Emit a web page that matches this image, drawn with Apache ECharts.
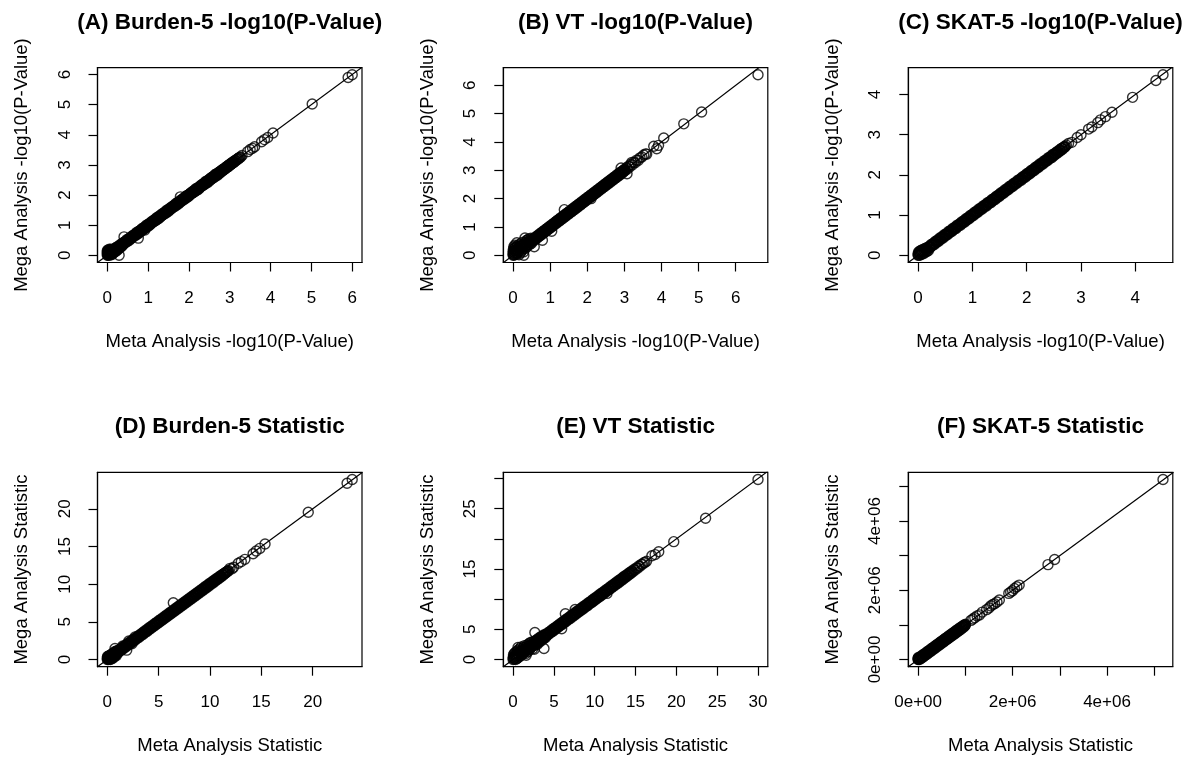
<!DOCTYPE html>
<html>
<head>
<meta charset="utf-8">
<script src="https://cdn.jsdelivr.net/npm/echarts@6/dist/echarts.min.js"></script>
<style>
  html, body { margin: 0; padding: 0; background: #ffffff; }
  #chart { width: 1190px; height: 760px; }
</style>
</head>
<body>
<div id="chart"></div>
<script>
// Each pair is [meta analysis value, mega analysis value] for one gene.
// The *Core arrays hold the genes sitting right on the diagonal of each panel.

// (A) Burden-5 -log10(P)
const burdenP = [
  [0,0],[0,0.05],[0,0.1],[0,0.15],[0.01,0.02],[0.01,0.12],[0.02,0.06],[0.02,0.18],[0.03,0.0],[0.03,0.1],
  [0.04,0.14],[0.04,0.03],[0.05,0.08],[0.05,0.2],[0.06,0.01],[0.06,0.12],[0.07,0.16],[0.08,0.05],[0.08,0.1],[0.09,0.2],
  [0.1,0.02],[0.1,0.13],[0.11,0.08],[0.12,0.18],[0.13,0.04],[0.14,0.12],[0.15,0.2],[0.16,0.09],[0.17,0.15],[0.18,0.22],
  [0.19,0.12],[0.2,0.18],[0.21,0.25],[0.22,0.14],[0.23,0.21],[0.24,0.28],[0.25,0.18],[0.26,0.24],[0.27,0.3],[0.28,0.22],
  [0.29,0],[0.3,0.27],[0.31,0.34],[0.32,0.26],[0.33,0.3],[0.34,0.37],[0.35,0.3],[0.36,0.34],[0.37,0.4],[0.38,0.33],
  [0.39,0.37],[0.41,0.61],[0.76,0.57],[0.92,0.84],[1.79,1.94],
  [0.4,0.43],[0.42,0.4],[0.44,0.46],[0.46,0.43],[0.48,0.52],[0.5,0.47],[0.52,0.55],[0.54,0.5],[0.56,0.58],[0.58,0.55],
  [0.6,0.63],[0.62,0.6],[0.64,0.67],[0.66,0.64],[0.68,0.7],[0.7,0.67],[0.72,0.76],[0.74,0.71],[0.76,0.79],[0.78,0.74],
  [0.8,0.82],[0.82,0.79],[0.84,0.87],[0.86,0.84],[0.88,0.91],[0.9,0.88],[0.92,0.94],[0.94,0.91],[0.96,1.0],[0.98,0.95],
  [1.0,1.03],[1.02,0.98],[1.04,1.06],[1.06,1.03],[1.08,1.11],[1.1,1.08],[1.12,1.15],[1.14,1.12],[1.16,1.18],[1.18,1.15],
  [1.2,1.24],[1.22,1.19],[1.24,1.27],[1.26,1.22],[1.28,1.3],[1.3,1.27],[1.32,1.35],[1.34,1.32],[1.36,1.39],[1.38,1.36],
  [1.4,1.42],[1.42,1.39],[1.44,1.48],[1.46,1.43],[1.48,1.51],[1.5,1.46],[1.52,1.54],[1.54,1.51],[1.56,1.59],[1.58,1.56],
  [1.6,1.63],[1.62,1.6],[1.64,1.66],[1.66,1.63],[1.68,1.72],[1.7,1.67],[1.72,1.75],[1.74,1.7],[1.76,1.78],[1.78,1.75],
  [1.8,1.83],[1.82,1.8],[1.84,1.87],[1.86,1.84],[1.88,1.9],[1.9,1.87],[1.92,1.96],[1.94,1.91],[1.96,1.99],[1.98,1.94],
  [2.0,2.02],[2.02,1.99],[2.04,2.07],[2.06,2.04],[2.08,2.11],[2.1,2.08],[2.12,2.14],[2.14,2.11],[2.16,2.2],[2.18,2.15],
  [2.2,2.23],[2.22,2.18],[2.24,2.26],[2.26,2.23],[2.28,2.31],[2.3,2.28],[2.32,2.35],[2.34,2.32],[2.36,2.38],[2.38,2.35],
  [2.4,2.44],[2.42,2.39],[2.44,2.47],[2.46,2.42],[2.48,2.5],[2.5,2.47],[2.52,2.55],[2.54,2.52],[2.56,2.59],[2.58,2.56],
  [2.6,2.62],[2.62,2.59],[2.64,2.68],[2.66,2.63],[2.68,2.71],[2.7,2.66],[2.72,2.74],[2.74,2.71],[2.76,2.78],[2.78,2.76],
  [2.8,2.82],[2.82,2.8],[2.84,2.86],[2.86,2.84],[2.88,2.9],[2.9,2.88],[2.92,2.94],[2.94,2.92],[2.96,2.98],[2.98,2.96],
  [3.0,3.02],[3.02,3.01],[3.04,3.06],[3.06,3.05],[3.08,3.1],[3.1,3.09],[3.12,3.14],[3.15,3.14],[3.18,3.19],[3.21,3.2],
  [3.24,3.25],[3.27,3.26],[3.3,3.31],
  [3.44,3.44],[3.5,3.51],[3.56,3.55],[3.61,3.6],[3.78,3.77],[3.85,3.84],[3.93,3.91],[4.06,4.06],[5.02,5.02],[5.9,5.9],
  [6.0,5.99]
];
const burdenPCore = [
  [0.41,0.41],[0.43,0.44],[0.45,0.45],[0.47,0.46],[0.49,0.49],[0.51,0.52],[0.53,0.53],[0.55,0.54],[0.57,0.57],[0.59,0.6],
  [0.61,0.61],[0.63,0.62],[0.65,0.65],[0.67,0.68],[0.69,0.69],[0.71,0.7],[0.73,0.73],[0.75,0.76],[0.77,0.77],[0.79,0.78],
  [0.81,0.81],[0.83,0.84],[0.85,0.85],[0.87,0.86],[0.89,0.89],[0.91,0.92],[0.93,0.93],[0.95,0.94],[0.97,0.97],[0.99,1.0],
  [1.01,1.01],[1.03,1.02],[1.05,1.05],[1.07,1.08],[1.09,1.09],[1.11,1.1],[1.13,1.13],[1.15,1.16],[1.17,1.17],[1.19,1.18],
  [1.21,1.21],[1.23,1.24],[1.25,1.25],[1.27,1.26],[1.29,1.29],[1.31,1.32],[1.33,1.33],[1.35,1.34],[1.37,1.37],[1.39,1.4],
  [1.41,1.41],[1.43,1.42],[1.45,1.45],[1.47,1.48],[1.49,1.49],[1.51,1.5],[1.53,1.53],[1.55,1.56],[1.57,1.57],[1.59,1.58],
  [1.61,1.61],[1.63,1.64],[1.65,1.65],[1.67,1.66],[1.69,1.69],[1.71,1.72],[1.73,1.73],[1.75,1.74],[1.77,1.77],[1.79,1.8],
  [1.81,1.81],[1.83,1.82],[1.85,1.85],[1.87,1.88],[1.89,1.89],[1.91,1.9],[1.93,1.93],[1.95,1.96],[1.97,1.97],[1.99,1.98],
  [2.01,2.01],[2.03,2.04],[2.05,2.05],[2.07,2.06],[2.09,2.09],[2.11,2.12],[2.13,2.13],[2.15,2.14],[2.17,2.17],[2.19,2.2],
  [2.21,2.21],[2.23,2.22],[2.25,2.25],[2.27,2.28],[2.29,2.29],[2.31,2.3],[2.33,2.33],[2.35,2.36],[2.37,2.37],[2.39,2.38],
  [2.41,2.41],[2.43,2.44],[2.45,2.45],[2.47,2.46],[2.49,2.49],[2.51,2.52],[2.53,2.53],[2.55,2.54],[2.57,2.57],[2.59,2.6],
  [2.61,2.61],[2.63,2.62],[2.65,2.65],[2.67,2.68],[2.69,2.69],[2.71,2.7],[2.73,2.73],[2.75,2.76],[2.77,2.77],[2.79,2.78],
  [2.81,2.81],[2.83,2.84],[2.85,2.85],[2.87,2.86],[2.89,2.89],[2.91,2.92],[2.93,2.93],[2.95,2.94],[2.97,2.97],[2.99,3.0],
  [3.01,3.01],[3.03,3.02],[3.05,3.05],[3.07,3.08],[3.09,3.09],[3.11,3.1],[3.14,3.15],[3.17,3.17],[3.2,3.21],[3.23,3.23]
];

// (B) VT -log10(P)
const vtP = [
  [0,0],[0,0.06],[0,0.14],[0.01,0.22],[0.01,0.03],[0.02,0.1],[0.02,0.3],[0.03,0.17],[0.03,0.01],[0.04,0.25],
  [0.05,0.08],[0.05,0.36],[0.06,0.15],[0.07,0.03],[0.07,0.28],[0.08,0.2],[0.09,0.1],[0.1,0.44],[0.1,0.3],[0.11,0.05],
  [0.12,0.19],[0.13,0.36],[0.14,0.12],[0.15,0.25],[0.16,0.02],[0.17,0.32],[0.18,0.18],[0.19,0.4],[0.2,0.09],[0.21,0.26],
  [0.22,0.34],[0.23,0.16],[0.24,0.45],[0.25,0.28],[0.26,0.22],[0.27,0.36],[0.28,0.12],[0.29,0],[0.3,0.4],[0.31,0.3],
  [0.32,0.61],[0.33,0.24],[0.34,0.46],[0.35,0.35],[0.36,0.52],[0.37,0.3],[0.38,0.42],[0.39,0.55],[0.4,0.36],[0.41,0.48],
  [0.42,0.4],[0.43,0.58],[0.44,0.45],[0.45,0.38],[0.46,0.53],[0.47,0.46],[0.48,0.6],[0.49,0.42],[0.5,0.55],
  [0.57,0.3],[0.79,0.53],[1.04,0.85],[1.38,1.61],[2.1,2.0],[2.91,3.08],[3.07,2.88],
  [0.52,0.55],[0.54,0.5],[0.56,0.6],[0.58,0.55],[0.6,0.63],[0.62,0.58],[0.64,0.68],[0.66,0.63],[0.68,0.71],[0.7,0.66],
  [0.72,0.76],[0.74,0.71],[0.76,0.79],[0.78,0.74],[0.8,0.84],[0.82,0.79],[0.84,0.87],[0.86,0.82],[0.88,0.92],[0.9,0.87],
  [0.92,0.95],[0.94,0.9],[0.96,1.0],[0.98,0.95],[1.0,1.03],[1.02,0.98],[1.04,1.08],[1.06,1.03],[1.08,1.11],[1.1,1.06],
  [1.12,1.16],[1.14,1.11],[1.16,1.19],[1.18,1.14],[1.2,1.24],[1.22,1.19],[1.24,1.27],[1.26,1.22],[1.28,1.32],[1.3,1.27],
  [1.32,1.35],[1.34,1.3],[1.36,1.4],[1.38,1.35],[1.4,1.43],[1.42,1.38],[1.44,1.48],[1.46,1.43],[1.48,1.51],[1.5,1.46],
  [1.52,1.56],[1.54,1.51],[1.56,1.59],[1.58,1.54],[1.6,1.64],[1.62,1.59],[1.64,1.67],[1.66,1.62],[1.68,1.72],[1.7,1.67],
  [1.72,1.75],[1.74,1.7],[1.76,1.8],[1.78,1.75],[1.8,1.83],[1.82,1.78],[1.84,1.88],[1.86,1.83],[1.88,1.91],[1.9,1.86],
  [1.92,1.96],[1.94,1.91],[1.96,1.99],[1.98,1.94],[2.0,2.04],[2.02,1.99],[2.04,2.07],[2.06,2.02],[2.08,2.12],[2.1,2.07],
  [2.12,2.15],[2.14,2.1],[2.16,2.2],[2.18,2.15],[2.2,2.23],[2.22,2.18],[2.24,2.28],[2.26,2.23],[2.28,2.31],[2.3,2.26],
  [2.32,2.36],[2.34,2.31],[2.36,2.39],[2.38,2.34],[2.4,2.44],[2.42,2.39],[2.44,2.47],[2.46,2.42],[2.48,2.52],[2.5,2.47],
  [2.52,2.55],[2.54,2.5],[2.56,2.6],[2.58,2.55],[2.6,2.63],[2.62,2.58],[2.64,2.68],[2.66,2.63],[2.68,2.71],[2.7,2.66],
  [2.72,2.76],[2.74,2.71],[2.76,2.79],[2.78,2.74],[2.8,2.84],[2.82,2.79],[2.84,2.87],[2.86,2.82],[2.88,2.92],[2.9,2.87],
  [2.92,2.95],[2.94,2.9],[2.96,2.99],[2.98,2.95],[3.0,3.03],[3.02,2.99],
  [3.05,3.09],[3.08,3.05],[3.11,3.14],[3.14,3.12],[3.17,3.21],[3.2,3.28],[3.21,3.19],[3.25,3.28],[3.29,3.27],[3.33,3.36],
  [3.37,3.35],[3.42,3.44],[3.47,3.47],[3.52,3.54],[3.57,3.58],[3.6,3.57],
  [3.79,3.85],[3.87,3.76],[3.92,3.88],[4.06,4.14],[4.6,4.64],[5.08,5.06],[6.6,6.37]
];
const vtPCore = [
  [0.53,0.54],[0.55,0.55],[0.57,0.56],[0.59,0.59],[0.61,0.62],[0.63,0.63],[0.65,0.64],[0.67,0.67],[0.69,0.7],[0.71,0.71],
  [0.73,0.72],[0.75,0.75],[0.77,0.78],[0.79,0.79],[0.81,0.8],[0.83,0.83],[0.85,0.86],[0.87,0.87],[0.89,0.88],[0.91,0.91],
  [0.93,0.94],[0.95,0.95],[0.97,0.96],[0.99,0.99],[1.01,1.02],[1.03,1.03],[1.05,1.04],[1.07,1.07],[1.09,1.1],[1.11,1.11],
  [1.13,1.12],[1.15,1.15],[1.17,1.18],[1.19,1.19],[1.21,1.2],[1.23,1.23],[1.25,1.26],[1.27,1.27],[1.29,1.28],[1.31,1.31],
  [1.33,1.34],[1.35,1.35],[1.37,1.36],[1.39,1.39],[1.41,1.42],[1.43,1.43],[1.45,1.44],[1.47,1.47],[1.49,1.5],[1.51,1.51],
  [1.53,1.52],[1.55,1.55],[1.57,1.58],[1.59,1.59],[1.61,1.6],[1.63,1.63],[1.65,1.66],[1.67,1.67],[1.69,1.68],[1.71,1.71],
  [1.73,1.74],[1.75,1.75],[1.77,1.76],[1.79,1.79],[1.81,1.82],[1.83,1.83],[1.85,1.84],[1.87,1.87],[1.89,1.9],[1.91,1.91],
  [1.93,1.92],[1.95,1.95],[1.97,1.98],[1.99,1.99],[2.01,2.0],[2.03,2.03],[2.05,2.06],[2.07,2.07],[2.09,2.08],[2.11,2.11],
  [2.13,2.14],[2.15,2.15],[2.17,2.16],[2.19,2.19],[2.21,2.22],[2.23,2.23],[2.25,2.24],[2.27,2.27],[2.29,2.3],[2.31,2.31],
  [2.33,2.32],[2.35,2.35],[2.37,2.38],[2.39,2.39],[2.41,2.4],[2.43,2.43],[2.45,2.46],[2.47,2.47],[2.49,2.48],[2.51,2.51],
  [2.53,2.54],[2.55,2.55],[2.57,2.56],[2.59,2.59],[2.61,2.62],[2.63,2.63],[2.65,2.64],[2.67,2.67],[2.69,2.7],[2.71,2.71],
  [2.73,2.72],[2.75,2.75],[2.77,2.78],[2.79,2.79],[2.81,2.8],[2.83,2.83],[2.85,2.86],[2.87,2.87],[2.89,2.88],[2.91,2.91],
  [2.93,2.94],[2.95,2.95],[2.97,2.96],[2.99,2.99],[3.01,3.02]
];

// (C) SKAT-5 -log10(P)
const skatP = [
  [0,0],[0,0.04],[0.01,0.08],[0.01,0.01],[0.02,0.05],[0.03,0.1],[0.03,0.0],[0.04,0.06],[0.05,0.12],[0.05,0.02],
  [0.06,0.08],[0.07,0.13],[0.08,0.03],[0.09,0.1],[0.1,0.15],[0.11,0.05],[0.12,0.11],[0.13,0.17],[0.14,0.08],[0.15,0.13],
  [0.16,0.19],[0.17,0.1],[0.18,0.16],[0.19,0.12],
  [0.2,0.22],[0.22,0.19],[0.24,0.27],[0.26,0.24],[0.28,0.3],[0.3,0.27],[0.32,0.35],[0.34,0.32],[0.36,0.38],[0.38,0.35],
  [0.4,0.43],[0.42,0.4],[0.44,0.46],[0.46,0.43],[0.48,0.51],[0.5,0.48],[0.52,0.54],[0.54,0.51],[0.56,0.59],[0.58,0.56],
  [0.6,0.62],[0.62,0.59],[0.64,0.67],[0.66,0.64],[0.68,0.7],[0.7,0.67],[0.72,0.75],[0.74,0.72],[0.76,0.78],[0.78,0.75],
  [0.8,0.83],[0.82,0.8],[0.84,0.86],[0.86,0.83],[0.88,0.91],[0.9,0.88],[0.92,0.94],[0.94,0.91],[0.96,0.99],[0.98,0.96],
  [1.0,1.02],[1.02,0.99],[1.04,1.07],[1.06,1.04],[1.08,1.1],[1.1,1.07],[1.12,1.15],[1.14,1.12],[1.16,1.18],[1.18,1.15],
  [1.2,1.23],[1.22,1.2],[1.24,1.26],[1.26,1.23],[1.28,1.31],[1.3,1.28],[1.32,1.34],[1.34,1.31],[1.36,1.39],[1.38,1.36],
  [1.4,1.42],[1.42,1.39],[1.44,1.47],[1.46,1.44],[1.48,1.5],[1.5,1.47],[1.52,1.55],[1.54,1.52],[1.56,1.58],[1.58,1.55],
  [1.6,1.63],[1.62,1.6],[1.64,1.66],[1.66,1.63],[1.68,1.71],[1.7,1.68],[1.72,1.74],[1.74,1.71],[1.76,1.79],[1.78,1.76],
  [1.8,1.82],[1.82,1.79],[1.84,1.87],[1.86,1.84],[1.88,1.9],[1.9,1.87],[1.92,1.95],[1.94,1.92],[1.96,1.98],[1.98,1.95],
  [2.0,2.03],[2.02,2.0],[2.04,2.06],[2.06,2.03],[2.08,2.11],[2.1,2.08],[2.12,2.14],[2.14,2.11],[2.16,2.19],[2.18,2.16],
  [2.2,2.22],[2.22,2.19],[2.24,2.27],[2.26,2.24],[2.28,2.3],[2.3,2.27],[2.32,2.35],[2.34,2.32],[2.36,2.38],[2.38,2.35],
  [2.4,2.43],[2.42,2.4],[2.44,2.46],[2.46,2.43],[2.48,2.51],[2.5,2.48],[2.52,2.54],[2.54,2.52],[2.56,2.58],[2.58,2.56],
  [2.6,2.62],[2.62,2.6],[2.64,2.66],[2.66,2.64],[2.68,2.69],[2.7,2.69],[2.73,2.74],
  [2.77,2.78],[2.83,2.81],[2.93,2.93],[3.0,3.0],[3.14,3.14],[3.2,3.19],[3.31,3.3],[3.36,3.37],[3.45,3.45],[3.57,3.56],
  [3.95,3.93],[4.38,4.35],[4.51,4.49]
];
const skatPCore = [
  [0.21,0.21],[0.23,0.22],[0.25,0.26],[0.27,0.27],[0.29,0.29],[0.31,0.3],[0.33,0.34],[0.35,0.35],[0.37,0.37],[0.39,0.38],
  [0.41,0.42],[0.43,0.43],[0.45,0.45],[0.47,0.46],[0.49,0.5],[0.51,0.51],[0.53,0.53],[0.55,0.54],[0.57,0.58],[0.59,0.59],
  [0.61,0.61],[0.63,0.62],[0.65,0.66],[0.67,0.67],[0.69,0.69],[0.71,0.7],[0.73,0.74],[0.75,0.75],[0.77,0.77],[0.79,0.78],
  [0.81,0.82],[0.83,0.83],[0.85,0.85],[0.87,0.86],[0.89,0.9],[0.91,0.91],[0.93,0.93],[0.95,0.94],[0.97,0.98],[0.99,0.99],
  [1.01,1.01],[1.03,1.02],[1.05,1.06],[1.07,1.07],[1.09,1.09],[1.11,1.1],[1.13,1.14],[1.15,1.15],[1.17,1.17],[1.19,1.18],
  [1.21,1.22],[1.23,1.23],[1.25,1.25],[1.27,1.26],[1.29,1.3],[1.31,1.31],[1.33,1.33],[1.35,1.34],[1.37,1.38],[1.39,1.39],
  [1.41,1.41],[1.43,1.42],[1.45,1.46],[1.47,1.47],[1.49,1.49],[1.51,1.5],[1.53,1.54],[1.55,1.55],[1.57,1.57],[1.59,1.58],
  [1.61,1.62],[1.63,1.63],[1.65,1.65],[1.67,1.66],[1.69,1.7],[1.71,1.71],[1.73,1.73],[1.75,1.74],[1.77,1.78],[1.79,1.79],
  [1.81,1.81],[1.83,1.82],[1.85,1.86],[1.87,1.87],[1.89,1.89],[1.91,1.9],[1.93,1.94],[1.95,1.95],[1.97,1.97],[1.99,1.98],
  [2.01,2.02],[2.03,2.03],[2.05,2.05],[2.07,2.06],[2.09,2.1],[2.11,2.11],[2.13,2.13],[2.15,2.14],[2.17,2.18],[2.19,2.19],
  [2.21,2.21],[2.23,2.22],[2.25,2.26],[2.27,2.27],[2.29,2.29],[2.31,2.3],[2.33,2.34],[2.35,2.35],[2.37,2.37],[2.39,2.38],
  [2.41,2.42],[2.43,2.43],[2.45,2.45],[2.47,2.46],[2.49,2.5],[2.51,2.51],[2.53,2.53],[2.55,2.54],[2.57,2.58],[2.59,2.59],
  [2.61,2.61],[2.63,2.62],[2.65,2.66],[2.67,2.67],[2.69,2.7],[2.71,2.71]
];

// (D) Burden-5 statistic
const burdenStat = [
  [0,0],[0,0.2],[0.02,0.4],[0.05,0.1],[0.08,0.3],[0.1,0.0],[0.12,0.45],[0.15,0.2],[0.18,0.05],[0.2,0.35],
  [0.22,0.55],[0.25,0.15],[0.28,0.4],[0.3,0.0],[0.32,0.25],[0.35,0.6],[0.38,0.1],[0.4,0.4],[0.42,0.7],[0.45,0.25],
  [0.48,0.5],[0.5,0.15],[0.52,0.8],[0.55,0.4],[0.58,0.6],[0.6,0.3],[0.62,0.9],[0.65,0.55],[0.68,0.35],[0.7,0.75],
  [0.75,1.46],[0.72,1.0],[0.75,0.5],[0.78,0.85],[0.8,0.6],[0.82,1.1],[0.85,0.7],[0.88,0.95],[0.9,0.55],[0.92,1.15],
  [0.95,0.8],[0.98,1.05],[1.89,1.24],[6.43,7.53],[1.5,1.8],[2.1,2.45],[2.4,2.1],[2.7,3.0],
  [1.0,1.13],[1.1,0.98],[1.2,1.35],[1.3,1.17],[1.4,1.53],[1.5,1.37],[1.6,1.74],[1.7,1.58],[1.8,1.93],[1.9,1.77],
  [2.0,2.14],[2.1,1.98],[2.2,2.33],[2.3,2.17],[2.4,2.53],[2.5,2.38],[2.6,2.74],[2.7,2.57],[2.8,2.93],[2.9,2.78],
  [3.0,3.14],[3.1,2.97],[3.2,3.33],[3.3,3.18],[3.4,3.53],[3.5,3.37],[3.6,3.74],[3.7,3.58],[3.8,3.93],[3.9,3.77],
  [4.0,4.14],[4.1,3.98],[4.2,4.33],[4.3,4.17],[4.4,4.53],[4.5,4.38],[4.6,4.74],[4.7,4.57],[4.8,4.93],[4.9,4.78],
  [5.0,5.14],[5.1,4.97],[5.2,5.33],[5.3,5.18],[5.4,5.53],[5.5,5.37],[5.6,5.74],[5.7,5.58],[5.8,5.93],[5.9,5.77],
  [6.0,6.14],[6.1,5.98],[6.2,6.33],[6.3,6.17],[6.4,6.53],[6.5,6.38],[6.6,6.74],[6.7,6.57],[6.8,6.93],[6.9,6.78],
  [7.0,7.14],[7.1,6.97],[7.2,7.33],[7.3,7.18],[7.4,7.53],[7.5,7.37],[7.6,7.74],[7.7,7.58],[7.8,7.93],[7.9,7.77],
  [8.0,8.14],[8.1,7.98],[8.2,8.33],[8.3,8.17],[8.4,8.53],[8.5,8.38],[8.6,8.74],[8.7,8.57],[8.8,8.93],[8.9,8.78],
  [9.0,9.14],[9.1,8.97],[9.2,9.33],[9.3,9.18],[9.4,9.53],[9.5,9.37],[9.6,9.74],[9.7,9.58],[9.8,9.93],[9.9,9.77],
  [10.0,10.14],[10.1,9.98],[10.2,10.33],[10.3,10.17],[10.4,10.53],[10.5,10.38],[10.6,10.72],[10.7,10.6],[10.8,10.9],[10.9,10.8],
  [11.0,11.1],[11.1,11.0],[11.2,11.28],[11.3,11.22],[11.4,11.46],[11.5,11.44],[11.6,11.64],[11.7,11.68],[11.8,11.82],
  [11.95,12.1],[12.15,12.05],[12.3,12.25],[12.76,12.77],[13.05,13.0],[13.4,13.3],[14.2,14.05],[14.5,14.4],[14.85,14.75],[15.36,15.33],
  [19.57,19.55],[23.35,23.4],[23.85,23.9]
];
const burdenStatCore = [
  [1.05,1.06],[1.15,1.14],[1.25,1.26],[1.35,1.35],[1.45,1.46],[1.55,1.54],[1.65,1.66],[1.75,1.75],[1.85,1.86],[1.95,1.94],
  [2.05,2.06],[2.15,2.15],[2.25,2.26],[2.35,2.34],[2.45,2.46],[2.55,2.55],[2.65,2.66],[2.75,2.74],[2.85,2.86],[2.95,2.95],
  [3.05,3.06],[3.15,3.14],[3.25,3.26],[3.35,3.35],[3.45,3.46],[3.55,3.54],[3.65,3.66],[3.75,3.75],[3.85,3.86],[3.95,3.94],
  [4.05,4.06],[4.15,4.15],[4.25,4.26],[4.35,4.34],[4.45,4.46],[4.55,4.55],[4.65,4.66],[4.75,4.74],[4.85,4.86],[4.95,4.95],
  [5.05,5.06],[5.15,5.14],[5.25,5.26],[5.35,5.35],[5.45,5.46],[5.55,5.54],[5.65,5.66],[5.75,5.75],[5.85,5.86],[5.95,5.94],
  [6.05,6.06],[6.15,6.15],[6.25,6.26],[6.35,6.34],[6.45,6.46],[6.55,6.55],[6.65,6.66],[6.75,6.74],[6.85,6.86],[6.95,6.95],
  [7.05,7.06],[7.15,7.14],[7.25,7.26],[7.35,7.35],[7.45,7.46],[7.55,7.54],[7.65,7.66],[7.75,7.75],[7.85,7.86],[7.95,7.94],
  [8.05,8.06],[8.15,8.15],[8.25,8.26],[8.35,8.34],[8.45,8.46],[8.55,8.55],[8.65,8.66],[8.75,8.74],[8.85,8.86],[8.95,8.95],
  [9.05,9.06],[9.15,9.14],[9.25,9.26],[9.35,9.35],[9.45,9.46],[9.55,9.54],[9.65,9.66],[9.75,9.75],[9.85,9.86],[9.95,9.94],
  [10.05,10.06],[10.15,10.15],[10.25,10.26],[10.35,10.34],[10.45,10.46],[10.55,10.55],[10.65,10.66],[10.75,10.74],[10.85,10.86],[10.95,10.95],
  [11.05,11.06],[11.15,11.14],[11.25,11.26],[11.35,11.35],[11.45,11.46],[11.55,11.54],[11.65,11.66],[11.75,11.75]
];

// (E) VT statistic
const vtStat = [
  [0,0],[0,0.3],[0.05,0.8],[0.1,0.1],[0.1,0.5],[0.15,1.0],[0.2,0.2],[0.25,0.7],[0.3,0.0],[0.3,1.2],
  [0.35,0.4],[0.4,0.9],[0.45,0.15],[0.5,1.4],[0.5,0.6],[0.55,1.0],[0.6,2.0],[0.6,0.3],[0.65,1.6],[0.7,0.8],
  [0.75,1.2],[0.8,0.5],[0.85,1.8],[0.9,1.0],[0.95,1.4],[1.0,2.1],[1.0,0.7],[1.05,1.2],[1.1,1.7],[1.15,0.9],
  [1.2,1.4],[1.25,2.0],[1.3,1.1],[1.35,1.6],[1.4,2.3],[1.45,1.3],[1.5,1.8],[1.55,1.0],[1.6,0.7],[1.6,2.1],
  [1.65,1.5],[1.7,2.4],[1.75,1.7],[1.8,1.3],[1.85,2.2],[1.9,1.8],[1.95,2.6],[2.0,1.6],[2.05,2.2],[2.1,2.8],
  [2.15,1.9],[2.2,2.5],[2.25,2.1],[2.3,2.9],[2.35,2.3],[2.4,1.8],[2.45,2.7],[2.5,2.3],[2.55,3.0],[2.6,1.7],
  [2.6,2.6],[2.67,4.48],[2.7,2.9],[2.75,2.4],[2.8,3.2],[2.85,2.7],[2.9,3.0],[2.95,2.5],[3.0,3.3],[3.05,2.8],
  [3.1,3.5],[3.15,3.0],[3.2,3.3],[3.25,2.9],[3.3,3.6],[3.35,3.2],[3.4,3.8],[3.45,3.3],[3.5,3.6],[3.55,3.2],
  [3.6,3.9],[3.65,3.5],[3.7,3.8],[3.78,1.83],[3.75,3.5],[3.8,4.1],[3.85,3.7],[3.9,4.0],[3.95,3.6],
  [5.95,5.1],[6.4,7.58],[7.6,8.3],[11.5,10.96],
  [4.0,4.17],[4.12,3.95],[4.24,4.42],[4.36,4.19],[4.48,4.63],[4.6,4.43],[4.72,4.89],[4.84,4.66],[4.96,5.14],[5.08,4.91],
  [5.2,5.35],[5.32,5.15],[5.44,5.61],[5.56,5.38],[5.68,5.86],[5.8,5.63],[5.92,6.07],[6.04,5.87],[6.16,6.33],[6.28,6.1],
  [6.4,6.58],[6.52,6.35],[6.64,6.79],[6.76,6.59],[6.88,7.05],[7.0,6.82],[7.12,7.3],[7.24,7.07],[7.36,7.51],[7.48,7.31],
  [7.6,7.77],[7.72,7.54],[7.84,8.02],[7.96,7.79],[8.08,8.23],[8.2,8.03],[8.32,8.49],[8.44,8.26],[8.56,8.74],[8.68,8.51],
  [8.8,8.95],[8.92,8.75],[9.04,9.21],[9.16,8.98],[9.28,9.46],[9.4,9.23],[9.52,9.67],[9.64,9.47],[9.76,9.93],[9.88,9.7],
  [10.0,10.18],[10.12,9.95],[10.24,10.39],[10.36,10.19],[10.48,10.65],[10.6,10.42],[10.72,10.9],[10.84,10.67],[10.96,11.11],[11.08,10.91],
  [11.2,11.37],[11.32,11.14],[11.44,11.62],[11.56,11.39],[11.68,11.83],[11.8,11.63],[11.92,12.09],[12.04,11.86],[12.16,12.34],[12.28,12.11],
  [12.4,12.55],[12.52,12.35],[12.64,12.81],[12.76,12.58],[12.88,13.06],[13.0,12.83],[13.12,13.27],[13.24,13.07],[13.36,13.53],[13.48,13.3],
  [13.6,13.78],[13.72,13.55],[13.84,13.99],[13.96,13.79],[14.08,14.22],[14.2,14.06],[14.32,14.46],[14.44,14.3],[14.56,14.68],[14.68,14.56],
  [14.8,14.92],[14.95,14.83],[15.1,15.2],[15.25,15.15],[15.4,15.5],[15.55,15.45],[15.7,15.78],[15.85,15.8],[16.0,16.05],[16.15,16.1],
  [16.35,16.3],
  [17.0,17.2],[17.4,17.4],[17.84,17.87],[19.68,19.54],[23.58,23.42],[30.0,29.85]
];
const vtStatCore = [
  [4.06,4.08],[4.18,4.18],[4.3,4.28],[4.42,4.42],[4.54,4.56],[4.66,4.66],[4.78,4.76],[4.9,4.9],[5.02,5.04],[5.14,5.14],
  [5.26,5.24],[5.38,5.38],[5.5,5.52],[5.62,5.62],[5.74,5.72],[5.86,5.86],[5.98,6.0],[6.1,6.1],[6.22,6.2],[6.34,6.34],
  [6.46,6.48],[6.58,6.58],[6.7,6.68],[6.82,6.82],[6.94,6.96],[7.06,7.06],[7.18,7.16],[7.3,7.3],[7.42,7.44],[7.54,7.54],
  [7.66,7.64],[7.78,7.78],[7.9,7.92],[8.02,8.02],[8.14,8.12],[8.26,8.26],[8.38,8.4],[8.5,8.5],[8.62,8.6],[8.74,8.74],
  [8.86,8.88],[8.98,8.98],[9.1,9.08],[9.22,9.22],[9.34,9.36],[9.46,9.46],[9.58,9.56],[9.7,9.7],[9.82,9.84],[9.94,9.94],
  [10.06,10.04],[10.18,10.18],[10.3,10.32],[10.42,10.42],[10.54,10.52],[10.66,10.66],[10.78,10.8],[10.9,10.9],[11.02,11.0],[11.14,11.14],
  [11.26,11.28],[11.38,11.38],[11.5,11.48],[11.62,11.62],[11.74,11.76],[11.86,11.86],[11.98,11.96],[12.1,12.1],[12.22,12.24],[12.34,12.34],
  [12.46,12.44],[12.58,12.58],[12.7,12.72],[12.82,12.82],[12.94,12.92],[13.06,13.06],[13.18,13.2],[13.3,13.3],[13.42,13.4],[13.54,13.54],
  [13.66,13.68],[13.78,13.78],[13.9,13.88],[14.02,14.02],[14.14,14.16],[14.26,14.26],[14.38,14.36],[14.5,14.5]
];

// (F) SKAT-5 statistic
const skatStat = [
  [0,0],[0,30000],[5000,60000],[10000,15000],[20000,40000],
  [15000,45000],[30000,2000],[45000,72000],[60000,32000],[75000,108000],[90000,58000],[105000,137000],[120000,88000],[135000,163000],[150000,122000],
  [165000,197000],[180000,148000],[195000,224000],[210000,183000],[225000,257000],[240000,208000],[255000,283000],[270000,242000],[285000,318000],[300000,268000],
  [315000,344000],[330000,303000],[345000,377000],[360000,328000],[375000,403000],[390000,362000],[405000,437000],[420000,388000],[435000,463000],[450000,423000],
  [465000,497000],[480000,448000],[495000,523000],[510000,482000],[525000,557000],[540000,508000],[555000,583000],[570000,543000],[585000,617000],[600000,568000],
  [615000,643000],[630000,602000],[645000,677000],[660000,628000],[675000,703000],[690000,663000],[705000,737000],[720000,688000],[735000,763000],[750000,722000],
  [765000,797000],[780000,748000],[795000,823000],[810000,783000],[825000,857000],[840000,808000],[855000,883000],[870000,842000],[885000,915000],[900000,870000],
  [915000,940000],[930000,905000],[945000,968000],[960000,935000],[975000,995000],[990000,970000],[1005000,1020000],
  [1120000,1130000],[1160000,1170000],[1200000,1210000],[1250000,1260000],[1300000,1290000],[1360000,1370000],
  [1450000,1440000],[1500000,1490000],[1540000,1550000],[1580000,1590000],[1620000,1610000],[1670000,1660000],[1720000,1720000],
  [1920000,1910000],[1960000,1950000],[2000000,1990000],[2040000,2050000],[2090000,2100000],[2140000,2150000],
  [2750000,2740000],[2890000,2890000],[5185000,5200000]
];
const skatStatCore = [
  [7500,9000],[22500,21000],[37500,39000],[52500,52500],[67500,69000],[82500,81000],[97500,99000],[112500,112500],[127500,129000],[142500,141000],
  [157500,159000],[172500,172500],[187500,189000],[202500,201000],[217500,219000],[232500,232500],[247500,249000],[262500,261000],[277500,279000],[292500,292500],
  [307500,309000],[322500,321000],[337500,339000],[352500,352500],[367500,369000],[382500,381000],[397500,399000],[412500,412500],[427500,429000],[442500,441000],
  [457500,459000],[472500,472500],[487500,489000],[502500,501000],[517500,519000],[532500,532500],[547500,549000],[562500,561000],[577500,579000],[592500,592500],
  [607500,609000],[622500,621000],[637500,639000],[652500,652500],[667500,669000],[682500,681000],[697500,699000],[712500,712500],[727500,729000],[742500,741000],
  [757500,759000],[772500,772500],[787500,789000],[802500,801000],[817500,819000],[832500,832500],[847500,849000],[862500,861000],[877500,879000],[892500,892500],
  [907500,909000],[922500,921000],[937500,939000],[952500,952500],[967500,969000],[982500,981000],[997500,999000]
];

// Panel titles and axis titles
const panelTitles = [
  '(A) Burden-5 -log10(P-Value)', '(B) VT -log10(P-Value)', '(C) SKAT-5 -log10(P-Value)',
  '(D) Burden-5 Statistic', '(E) VT Statistic', '(F) SKAT-5 Statistic'
];
const metaTitles = ['Meta Analysis -log10(P-Value)', 'Meta Analysis Statistic'];
const megaTitles = ['Mega Analysis -log10(P-Value)', 'Mega Analysis Statistic'];

// Tick positions and the subset of ticks that carry labels
const ticksP6 = [0, 1, 2, 3, 4, 5, 6];
const ticksP4 = [0, 1, 2, 3, 4];
const ticksBurdenStat = [0, 5, 10, 15, 20];
const ticksVtStat = [0, 5, 10, 15, 20, 25, 30];
const labelsVtStatY = [0, 5, 15, 25];
const ticksSkatStat = [0, 1e6, 2e6, 3e6, 4e6, 5e6];
const labelsSkatStat = [0, 2e6, 4e6];

const panels = [
  { data: burdenP.concat(burdenPCore), xt: ticksP6, xl: ticksP6, yt: ticksP6, yl: ticksP6, kind: 0 },
  { data: vtP.concat(vtPCore), xt: ticksP6, xl: ticksP6, yt: ticksP6, yl: ticksP6, kind: 0 },
  { data: skatP.concat(skatPCore), xt: ticksP4, xl: ticksP4, yt: ticksP4, yl: ticksP4, kind: 0 },
  { data: burdenStat.concat(burdenStatCore), xt: ticksBurdenStat, xl: ticksBurdenStat, yt: ticksBurdenStat, yl: ticksBurdenStat, kind: 1 },
  { data: vtStat.concat(vtStatCore), xt: ticksVtStat, xl: ticksVtStat, yt: ticksVtStat, yl: labelsVtStatY, kind: 1 },
  { data: skatStat.concat(skatStatCore), xt: ticksSkatStat, xl: labelsSkatStat, yt: ticksSkatStat, yl: labelsSkatStat, kind: 1, sci: true }
];

// Plot frame geometry (px)
const colLeft = [97.5, 503.3, 908.3];
const rowTop = [67.6, 472.3];
const boxW = 264.5;
const boxH = [194.9, 194.4];

const FONT = '"Liberation Sans", Arial, Helvetica, sans-serif';

// Default R-style range: data extent widened by 4% on each side
function padded(vals) {
  const lo = Math.min.apply(null, vals), hi = Math.max.apply(null, vals);
  const d = (hi - lo) * 0.04;
  return [lo - d, hi + d];
}

function sciLabel(v) {
  if (v === 0) return '0e+00';
  const s = v.toExponential(0);            // e.g. "2e+6"
  return s.replace(/e([+-])(\d)$/, 'e$10$2');
}

const grids = [], xAxes = [], yAxes = [], series = [], graphics = [];

panels.forEach(function (p, i) {
  const col = i % 3, row = Math.floor(i / 3);
  const xr = padded(p.data.map(function (d) { return d[0]; }));
  const yr = padded(p.data.map(function (d) { return d[1]; }));
  const fmt = p.sci ? sciLabel : function (v) { return String(v); };

  grids.push({
    left: colLeft[col], top: rowTop[row], width: boxW, height: boxH[row],
    show: true, borderColor: '#000', borderWidth: 1.2, backgroundColor: 'transparent',
    containLabel: false, outerBoundsMode: 'none'
  });

  xAxes.push({
    gridIndex: i, type: 'value', min: xr[0], max: xr[1],
    axisLine: { show: true, onZero: false, lineStyle: { color: '#000', width: 1.2 } },
    axisTick: { show: true, customValues: p.xt, length: 9, inside: false, lineStyle: { color: '#000', width: 1.2 } },
    axisLabel: { customValues: p.xl, formatter: fmt, color: '#000', fontSize: 17, fontFamily: FONT, margin: 27 },
    splitLine: { show: false },
    name: metaTitles[p.kind], nameLocation: 'middle', nameGap: 70,
    nameTextStyle: { color: '#000', fontSize: 18.5, fontFamily: FONT }
  });

  yAxes.push({
    gridIndex: i, type: 'value', min: yr[0], max: yr[1],
    axisLine: { show: true, onZero: false, lineStyle: { color: '#000', width: 1.2 } },
    axisTick: { show: true, customValues: p.yt, length: 9, inside: false, lineStyle: { color: '#000', width: 1.2 } },
    axisLabel: { customValues: p.yl, formatter: fmt, color: '#000', fontSize: 17, fontFamily: FONT, margin: 24, rotate: 90 },
    splitLine: { show: false },
    name: megaTitles[p.kind], nameLocation: 'middle', nameGap: 66,
    nameTextStyle: { color: '#000', fontSize: 18.5, fontFamily: FONT }
  });

  series.push({
    type: 'scatter', xAxisIndex: i, yAxisIndex: i, data: p.data,
    symbol: 'circle', symbolSize: 10, silent: true,
    itemStyle: { color: 'rgba(0,0,0,0)', borderColor: '#000', borderWidth: 1.4 }
  });

  // identity line y = x across the whole frame
  const lo = Math.min(xr[0], yr[0]), hi = Math.max(xr[1], yr[1]);
  series.push({
    type: 'line', xAxisIndex: i, yAxisIndex: i, data: [[lo, lo], [hi, hi]],
    symbol: 'none', silent: true, clip: true,
    lineStyle: { color: '#000', width: 1.2 }
  });

  graphics.push({
    type: 'text',
    x: colLeft[col] + boxW / 2,
    y: row === 0 ? 23 : 427,
    style: {
      text: panelTitles[i], fill: '#000', align: 'center', verticalAlign: 'middle',
      fontSize: 22.5, fontWeight: 'bold', fontFamily: FONT
    }
  });
});

const chart = echarts.init(document.getElementById('chart'), null, { renderer: 'canvas' });
chart.setOption({
  animation: false,
  backgroundColor: '#ffffff',
  grid: grids,
  xAxis: xAxes,
  yAxis: yAxes,
  series: series,
  graphic: graphics
});
</script>
</body>
</html>
